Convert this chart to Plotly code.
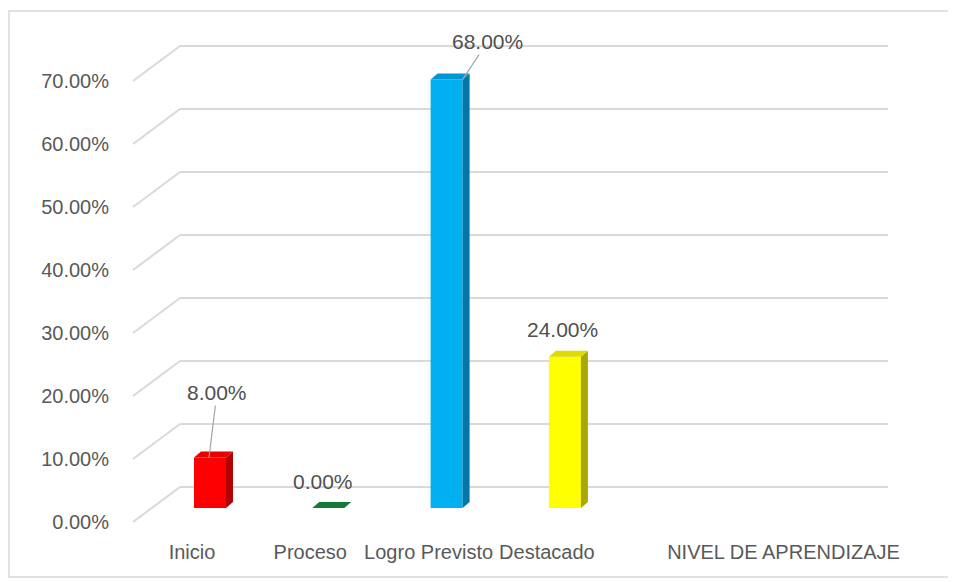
import plotly.graph_objects as go

# -----------------------
# Data
# -----------------------
categorias = ["Inicio", "Proceso", "Logro Previsto", "Destacado"]
porcentajes = [0.08, 0.00, 0.68, 0.24]
titulo_eje = "NIVEL DE APRENDIZAJE"
ticks_y = [0.0, 0.1, 0.2, 0.3, 0.4, 0.5, 0.6, 0.7]

# colours: front, side, top
color_frente = ["#ff0000", "#1a8a44", "#00b0f0", "#ffff00"]
color_lado = ["#b30000", "#0e5c2a", "#0077a6", "#a8a800"]
color_tope = ["#e60000", "#157a38", "#0096cf", "#dcdc00"]

# -----------------------
# Geometry (pixels -> axis units)
# -----------------------
PX_X = 118.3      # px per category
PX_Y = 630.0      # px per 100 %
front_l = 20 / PX_X
front_w = 32 / PX_X
dx = 7 / PX_X
dy = 6 / PX_Y

pos = list(range(len(categorias)))

fig = go.Figure()

# front faces
fig.add_trace(go.Bar(
    x=pos, y=porcentajes,
    width=front_w, offset=-front_l,
    marker=dict(color=color_frente, line=dict(width=0)),
    showlegend=False, hoverinfo="skip"
))

# side and top faces (3D look)
for i, v in enumerate(porcentajes):
    xr = pos[i] - front_l + front_w
    xl = pos[i] - front_l
    fig.add_trace(go.Scatter(
        x=[xr, xr + dx, xr + dx, xr, xr],
        y=[0, dy, v + dy, v, 0],
        fill="toself", fillcolor=color_lado[i], mode="lines",
        line=dict(width=0), showlegend=False, hoverinfo="skip"
    ))
    fig.add_trace(go.Scatter(
        x=[xl, xl + dx, xr + dx, xr, xl],
        y=[v, v + dy, v + dy, v, v],
        fill="toself", fillcolor=color_tope[i], mode="lines",
        line=dict(width=0), showlegend=False, hoverinfo="skip"
    ))

# invisible trace to activate the back-wall grid axis
fig.add_trace(go.Scatter(x=[None], y=[None], yaxis="y2", showlegend=False))

# -----------------------
# Data labels
# -----------------------
etiquetas = [  # (x offset in px at bar, ax, ay, leader line)
    (-5, 8, -65, True),
    (-9, 0, -27, False),
    (12, 25, -38, True),
    (-6, 0, -27, False),
]
for i, v in enumerate(porcentajes):
    off, ax, ay, linea = etiquetas[i]
    if linea:
        fig.add_annotation(
            x=pos[i] + off / PX_X, y=v, text=f"{v:.2%}",
            showarrow=True, arrowhead=0, arrowwidth=1.2, arrowcolor="#a6a6a6",
            ax=ax, ay=ay, standoff=0,
            font=dict(size=21, color="#505050")
        )
    else:
        fig.add_annotation(
            x=pos[i] + off / PX_X, y=v, text=f"{v:.2%}",
            showarrow=False, yshift=-ay,
            font=dict(size=21, color="#505050")
        )

# -----------------------
# Connectors from front labels to back grid
# -----------------------
for t in ticks_y:
    fig.add_shape(
        type="line", xref="paper", yref="y2",
        x0=-47 / 708, x1=0, y0=t - 35 / PX_Y, y1=t,
        line=dict(color="#d9d9d9", width=2)
    )

# chart border
fig.add_shape(
    type="rect", xref="paper", yref="paper",
    x0=(9 - 180) / 708, x1=(952 - 180) / 708,
    y0=(530 - 577) / 500, y1=(530 - 11) / 500,
    line=dict(color="#d9d9d9", width=1.5)
)

# page body has an 8px margin, so the figure starts at (8, 8)
fig.update_layout(
    width=948, height=574,
    margin=dict(l=172, r=68, t=22, b=52),
    paper_bgcolor="white", plot_bgcolor="white",
    font=dict(family="Liberation Sans, Arial, sans-serif", size=20, color="#595959"),
    xaxis=dict(
        range=[-34 / PX_X, -34 / PX_X + 708 / PX_X],
        tickmode="array",
        tickvals=pos + [4, 5],
        ticktext=categorias + ["", titulo_eje],
        ticklabelshift=-22, ticklabelstandoff=8,
        showgrid=False, zeroline=False, showline=False, ticks=""
    ),
    yaxis=dict(
        range=[-22 / PX_Y, 478 / PX_Y],
        tickmode="array", tickvals=ticks_y, tickformat=".2%",
        ticklabelshift=14, ticklabelstandoff=70,
        showgrid=False, zeroline=False, showline=False, ticks=""
    ),
    yaxis2=dict(
        overlaying="y", side="left",
        range=[-43 / PX_Y, 457 / PX_Y],
        tickmode="array", tickvals=ticks_y,
        showticklabels=False, showgrid=True,
        gridcolor="#d9d9d9", gridwidth=2,
        zeroline=False, showline=False, ticks=""
    ),
)

fig.write_html("out.html")
